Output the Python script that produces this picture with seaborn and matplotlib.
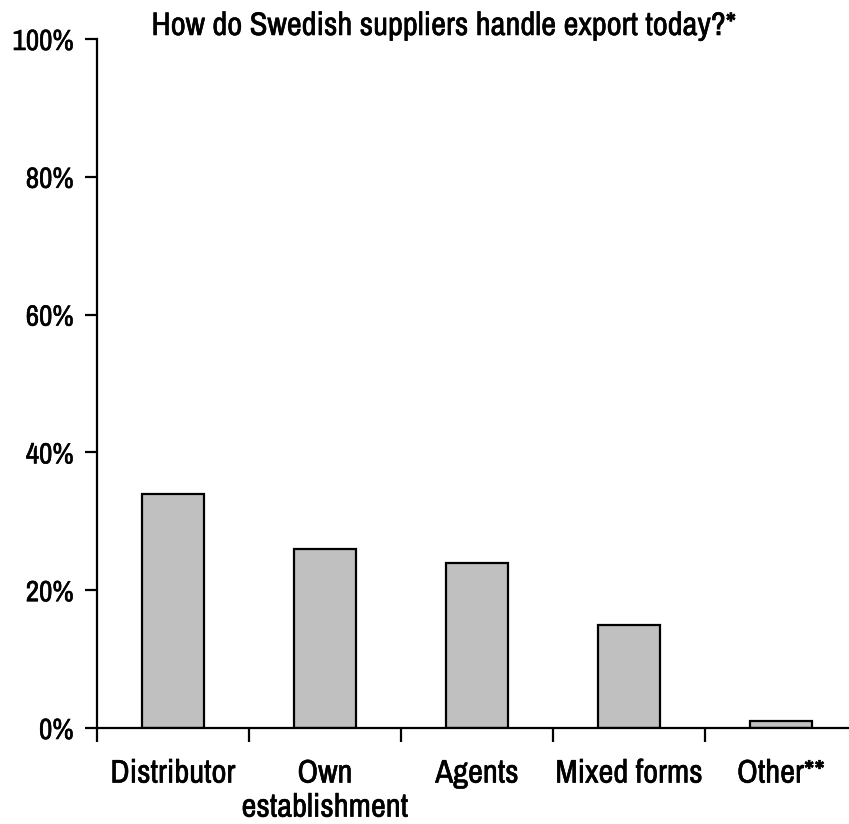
import matplotlib
matplotlib.use("Agg")
import matplotlib.pyplot as plt
import matplotlib.patheffects as pe
import seaborn as sns
import pandas as pd
from matplotlib.ticker import FuncFormatter

categories = ["Distributor", "Own\nestablishment", "Agents", "Mixed forms", "Other**"]
values = [34, 26, 24, 15, 1]
title = "How do Swedish suppliers handle export today?*"

sns.set_theme(style="white")
FONT = ['Archivo Narrow', 'Liberation Sans', 'DejaVu Sans']
plt.rcParams['font.family'] = FONT
plt.rcParams['text.color'] = 'black'
plt.rcParams['xtick.color'] = 'black'
plt.rcParams['ytick.color'] = 'black'

FS = 23.5
thick = [pe.withStroke(linewidth=0.4, foreground="black")]

df = pd.DataFrame({"cat": categories, "val": values})

fig = plt.figure(figsize=(8.49, 8.24), dpi=100)
W, H = 849, 824
ax = fig.add_axes([97 / W, 1 - 728 / H, (857 - 97) / W, (728 - 39) / H])

sns.barplot(data=df, x="cat", y="val", color="#C0C0C0", edgecolor="black",
            linewidth=1.6, width=0.41, saturation=1, ax=ax)

ax.set_ylim(0, 100)
ax.set_xlim(-0.5, len(categories) - 0.5)
ax.set_yticks([0, 20, 40, 60, 80, 100])
ax.yaxis.set_major_formatter(FuncFormatter(lambda v, p: f"{int(v)}%"))
ax.set_xlabel("")
ax.set_ylabel("")

for s in ["top", "right"]:
    ax.spines[s].set_visible(False)
for s in ["left", "bottom"]:
    ax.spines[s].set_color("black")
    ax.spines[s].set_linewidth(1.6)

ax.set_xticks([i - 0.5 for i in range(len(categories) + 1)])
ax.set_xticklabels([])
ax.set_xticks(range(len(categories)), minor=True)
ax.set_xticklabels(categories, minor=True, fontsize=FS, linespacing=1.17)
ax.tick_params(axis="x", which="major", direction="out", length=10, width=1.6,
               color="black", bottom=True)
ax.tick_params(axis="x", which="minor", length=0, pad=22)
ax.tick_params(axis="y", direction="out", length=9, width=1.6, color="black",
               left=True, pad=8)
for lab in ax.get_xticklabels(minor=True):
    lab.set_path_effects(thick)
for lab in ax.get_yticklabels():
    lab.set_fontsize(21)
    lab.set_path_effects(thick)

fig.text(444 / W, 1 - 35 / H, title, ha="center", va="baseline", fontsize=FS,
         path_effects=thick)

fig.savefig("out.png", dpi=100)
